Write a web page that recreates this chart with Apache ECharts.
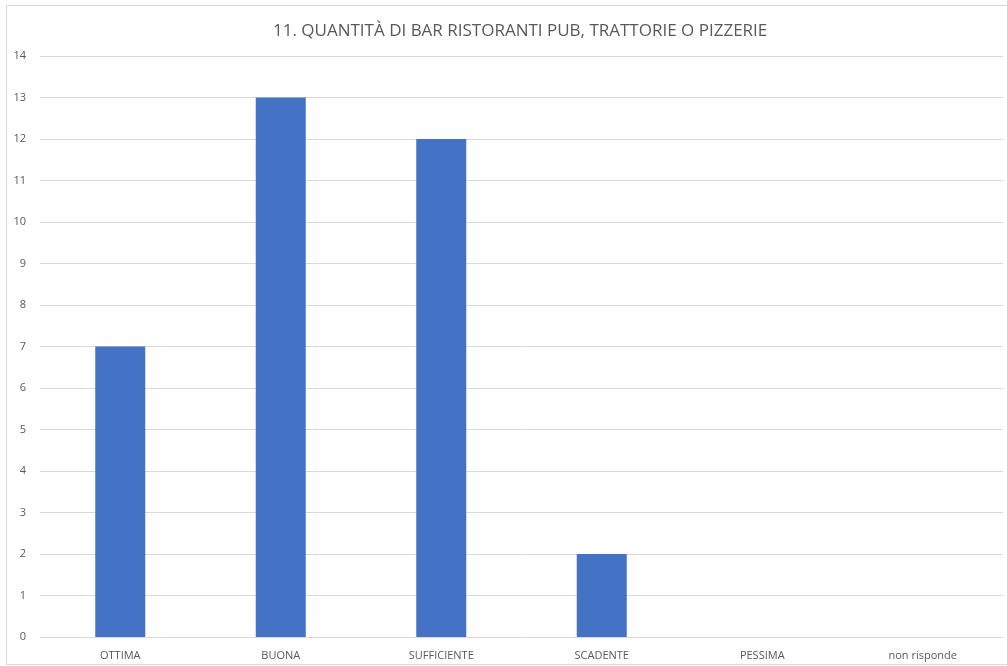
<!DOCTYPE html>
<html>
<head>
<meta charset="utf-8">
<script src="https://cdn.jsdelivr.net/npm/echarts@6/dist/echarts.min.js"></script>
<style>
  html, body { margin: 0; padding: 0; background: #fff; }
  #frame { position: absolute; left: 6px; top: 5px; width: 1010px; height: 660px; border: 1px solid #d9d9d9; box-sizing: border-box; }
  #chart { position: absolute; left: 0; top: 0; width: 1007px; height: 666px; }
</style>
</head>
<body>
<div id="frame"></div>
<div id="chart"></div>
<script>
const categories = ['OTTIMA', 'BUONA', 'SUFFICIENTE', 'SCADENTE', 'PESSIMA', 'non risponde'];
const values = [7, 13, 12, 2, 0, 0];
const titleText = '11. QUANTITÀ DI BAR RISTORANTI PUB, TRATTORIE O PIZZERIE';

const chart = echarts.init(document.getElementById('chart'));
const textColor = '#595959';

chart.setOption({
  animation: false,
  title: {
    text: titleText,
    left: 268,
    top: 18,
    textStyle: { color: textColor, fontSize: 17, fontWeight: 'normal', fontFamily: 'Open Sans' },
  },
  grid: { left: 40, right: 4, top: 56, bottom: 29 },
  xAxis: {
    type: 'category',
    data: categories,
    axisLine: { lineStyle: { color: '#d9d9d9' } },
    axisTick: { show: false },
    axisLabel: { color: textColor, fontSize: 11, margin: 13, fontFamily: 'Open Sans' },
  },
  yAxis: {
    type: 'value',
    min: 0,
    max: 14,
    interval: 1,
    axisLine: { show: false },
    axisTick: { show: false },
    axisLabel: { color: textColor, fontSize: 11, margin: 14, fontFamily: 'Open Sans' },
    splitLine: { lineStyle: { color: '#d9d9d9' } },
  },
  series: [{
    type: 'bar',
    data: values,
    barWidth: 50,
    itemStyle: { color: '#4472c4' },
  }],
});
</script>
</body>
</html>
